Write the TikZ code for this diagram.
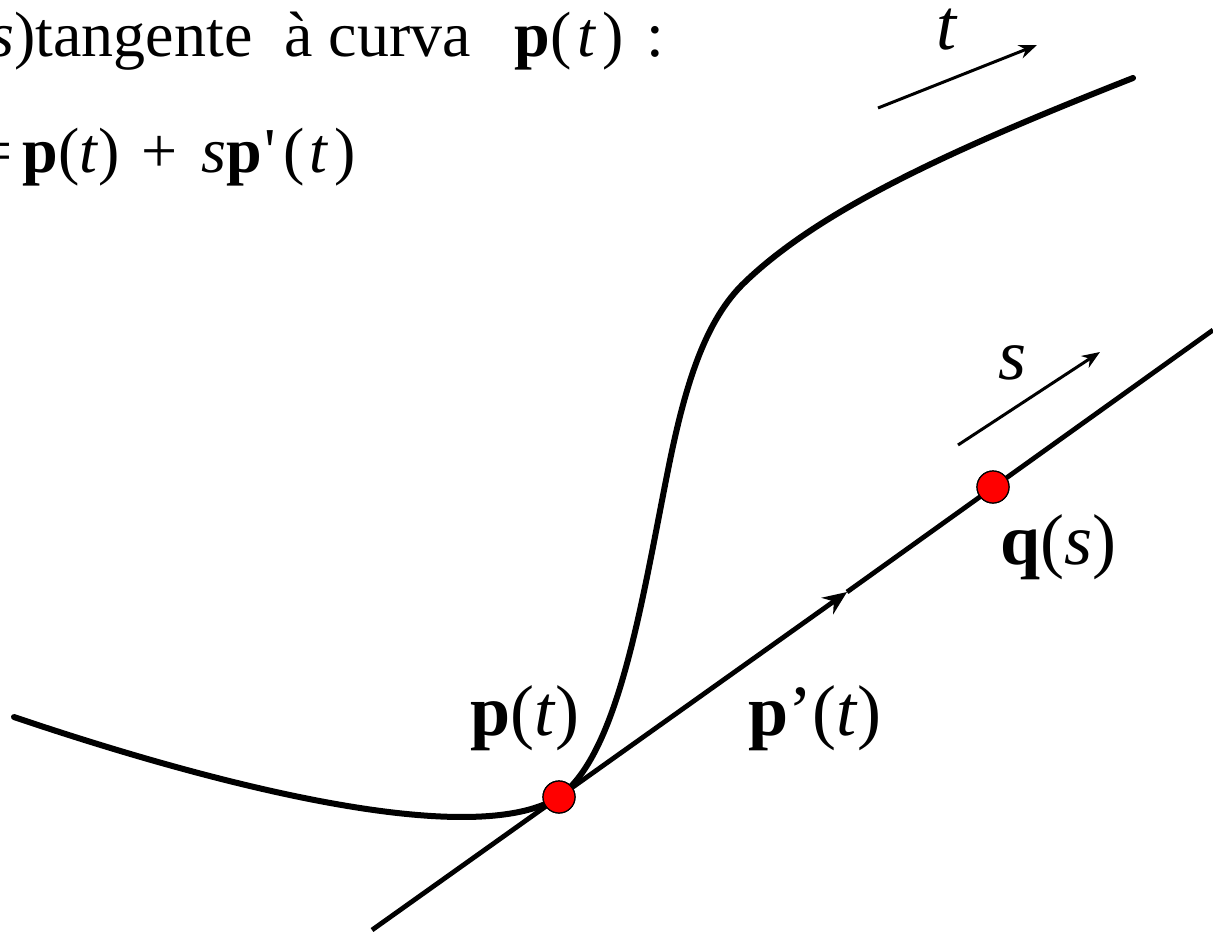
\documentclass[tikz,border=0pt]{standalone}
\usepackage{fontspec}
\setmainfont{Liberation Serif}
\usetikzlibrary{arrows.meta}
\newcommand{\vb}[1]{\textbf{#1}}
\newcommand{\vi}[1]{\textit{#1}}

\begin{document}
\begin{tikzpicture}[x=0.5pt,y=-0.5pt,
          curve/.style={line width=3pt,line cap=round},
          tangent/.style={line width=2.4pt},
          dir/.style={-{Stealth[length=9pt,width=7pt]},line width=1.5pt},
          dot/.style={circle,fill=red,draw=black,line width=0.6pt,
            minimum size=16pt,inner sep=0pt},
          big/.style={font=\fontsize{36}{40}\selectfont,inner sep=0pt},
          head/.style={font=\fontsize{32}{36}\selectfont,inner sep=0pt}]
        \useasboundingbox (0,0) rectangle (1213,931);

        \node[head,anchor=base west] (title) at (-11,57)
          {\vi{s})tangente~ à curva~ \kern6pt\vb{p}(\kern3pt\vi{t}\kern3pt)~\kern3pt:};
        \node[head,anchor=base west] (formula) at (-24,172)
          {=\kern5pt\vb{p}(\vi{t})\kern3pt{} + \kern4pt\vi{s}\vb{p}\kern1pt\textquotesingle\kern4pt(\kern2pt\vi{t}\kern3pt)};

        \coordinate (lo) at (372,930);
        \coordinate (mid) at (847,592);
        \coordinate (hi) at (1213,330);
        \coordinate (cstart) at (14,717);
        \coordinate (cend) at (1133,78);

        \node[dot] (pt) at (559,797) {};
        \node[dot] (qs) at (993,487) {};

        % curve p(t), tangent at p(t)
        \draw[curve] (cstart) .. controls (200,780) and (470,853) .. (pt.center)
          .. controls (619,754) and (642,600) .. (668,470)
          .. controls (685,385) and (705,320) .. (745,282)
          .. controls (820,210) and (950,150) .. (cend);
        \draw[tangent,-{Stealth[length=12pt,width=10pt]}] (lo) -- (mid);
        \draw[tangent] (mid) -- (hi);
        \node[dot] at (pt) {};
        \node[dot] at (qs) {};

        \coordinate (t0) at (878,108);
        \coordinate (t1) at (1037,45);
        \coordinate (s0) at (958,445);
        \coordinate (s1) at (1100,352);
        \draw[dir] (t0) -- (t1);
        \draw[dir] (s0) -- (s1);
        \node[big,anchor=base west] (tlab) at (936,50) {\vi{t}};
        \node[big,anchor=base west] (slab) at (998,379) {\vi{s}};

        \node[big,anchor=base west] (ptlab) at (470,735)
          {\vb{p}(\vi{t})};
        \node[big,anchor=base west] (dplab) at (748,735)
          {\vb{p}’(\vi{t})};
        \node[big,anchor=base west] (qslab) at (1000,564)
          {\vb{q}(\vi{s})};
      \end{tikzpicture}
\end{document}
